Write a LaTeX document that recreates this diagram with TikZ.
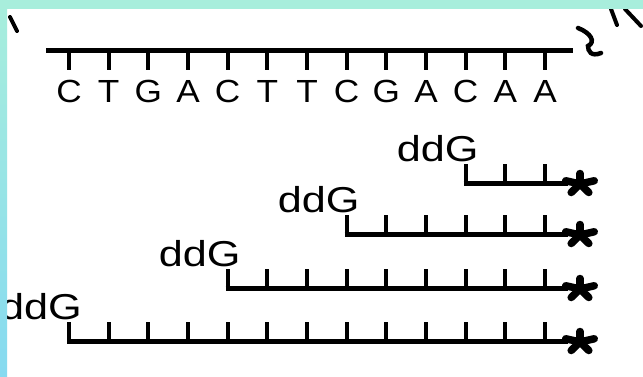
\documentclass[tikz,border=0pt]{standalone}
\usepackage{fontspec}
\setmainfont{Liberation Sans}
\definecolor{bandtop}{RGB}{168,238,220}
\definecolor{bandbot}{RGB}{134,218,240}
\begin{document}
\begin{tikzpicture}[x=1pt,y=-1pt,
  letter/.style={font=\fontsize{32}{32}\selectfont, inner sep=0pt, anchor=base, xscale=1.1},
  lab/.style={font=\fontsize{36}{36}\selectfont, inner sep=0pt, anchor=base east, xscale=1.2},
  strand/.style={line width=5pt},
  rung/.style={line width=4pt},
  scrawl/.style={line width=4pt, line cap=round},
  arm/.style={line width=7.5pt, line cap=round}]
\useasboundingbox (0,0) rectangle (643,376);
% white sheet
\fill[white] (0,0) rectangle (650,380);

% template strand with its bases
\draw[strand] (46,50) -- (573,50);
\foreach \l [count=\i from 0] in {C,T,G,A,C,T,T,C,G,A,C,A,A} {
  \pgfmathsetmacro\xx{69+39.67*\i}
  \draw[rung] (\xx,50) -- (\xx,70);
  \node[letter] (t\i) at (\xx,102) {\l};
}

% terminated fragments, each ending in ddG and carrying a label mark
\foreach \s/\y [count=\r] in {10/183, 7/234, 4/288, 0/341} {
  \pgfmathsetmacro\xs{69+39.67*\s}
  \foreach \k in {\s,...,12} {
    \pgfmathsetmacro\xk{69+39.67*\k}
    \draw[rung] (\xk,\y+2) -- (\xk,\y-19);
  }
  \draw[strand] (\xs-2,\y) -- (568,\y);
  \node[lab] (d\r) at (\xs+13,\y-22) {ddG};
  \coordinate (s\r) at (580,\y+1);
  \foreach \a in {90,18,162,234,306}
    \draw[arm] (s\r) -- ++({15*cos(\a)},{-10.5*sin(\a)});
}

% hand-drawn marks
\draw[scrawl] (10,17) -- (17,31);
\draw[scrawl] (611,9) -- (617,25);
\draw[scrawl] (625,9) -- (641,26);
\draw[line width=4.5pt, line cap=round] (578,28) .. controls (591,33) and (596,42) .. (588,46) .. controls (588,51) and (591,57) .. (601,53);

% coloured frame along the top and left edges
\shade[top color=bandtop, bottom color=bandbot] (0,0) rectangle (7,376);
\fill[bandtop] (0,0) rectangle (643,9);
\end{tikzpicture}
\end{document}
